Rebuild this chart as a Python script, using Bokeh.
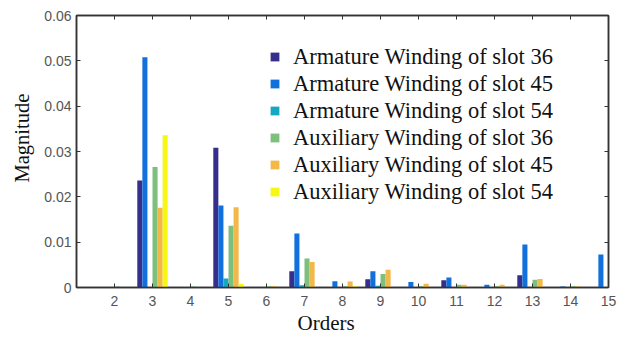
from bokeh.plotting import figure
from bokeh.models import Legend, LegendItem, LinearAxis, FixedTicker, Range1d, Title
from bokeh.embed import file_html
from bokeh.resources import INLINE

orders = [2, 3, 4, 5, 6, 7, 8, 9, 10, 11, 12, 13, 14, 15]
arm36 = [0.0, 0.0236, 0.0, 0.0308, 0.0, 0.0036, 0.0, 0.0018, 0.0, 0.0016, 0.0, 0.0027, 0.0, 0.0]
arm45 = [0.0, 0.0508, 0.0, 0.0181, 0.0, 0.0119, 0.0014, 0.0036, 0.0012, 0.0022, 0.0006, 0.0095, 0.0002, 0.0073]
arm54 = [0.0, 0.0, 0.0, 0.0020, 0.0, 0.0005, 0.0, 0.0004, 0.0, 0.0, 0.0, 0.0, 0.0, 0.0]
aux36 = [0.0002, 0.0266, 0.0002, 0.0136, 0.0003, 0.0064, 0.0003, 0.0030, 0.0003, 0.0006, 0.0003, 0.0017, 0.0003, 0.0]
aux45 = [0.0, 0.0176, 0.0, 0.0177, 0.0003, 0.0056, 0.0013, 0.0039, 0.0008, 0.0006, 0.0006, 0.0019, 0.0002, 0.0]
aux54 = [0.0, 0.0336, 0.0, 0.0008, 0.0, 0.0, 0.0003, 0.0, 0.0, 0.0, 0.0, 0.0, 0.0, 0.0]

labels = ["Armature Winding of slot 36", "Armature Winding of slot 45",
          "Armature Winding of slot 54", "Auxiliary Winding of slot 36",
          "Auxiliary Winding of slot 45", "Auxiliary Winding of slot 54"]
series = [arm36, arm45, arm54, aux36, aux45, aux54]
colors = ["#352e8c", "#1270dc", "#15a8c2", "#7dbf7d", "#f2b84a", "#f7f714"]

p = figure(width=618, height=337, output_backend="svg", toolbar_location=None,
           x_range=Range1d(1, 15), y_range=Range1d(0, 0.06),
           min_border_left=75, min_border_right=10, min_border_top=15, min_border_bottom=50)

p.background_fill_color = "white"
p.border_fill_color = "white"
p.grid.visible = False
p.outline_line_color = "#333333"
p.outline_line_width = 1.5

gw = 0.8
bw = gw / 6
items = []
for i, (vals, lab, col) in enumerate(zip(series, labels, colors)):
    off = (i - 2.5) * bw
    xs = [o + off for o in orders]
    r = p.vbar(x=xs, top=vals, width=bw, fill_color=col, line_color=None)
    items.append(LegendItem(label=lab, renderers=[r]))

for ax in [p.xaxis[0], p.yaxis[0]]:
    ax.axis_line_color = "#333333"
    ax.axis_line_width = 1.5
    ax.major_tick_in = 4
    ax.major_tick_out = 0
    ax.minor_tick_line_color = None
    ax.major_tick_line_color = "#333333"
    ax.major_label_text_font = "Liberation Sans"
    ax.major_label_text_font_size = "14px"
    ax.major_label_text_color = "#555555"

p.xaxis.ticker = FixedTicker(ticks=orders)
p.xaxis.major_label_standoff = 8
p.yaxis.ticker = FixedTicker(ticks=[0, 0.01, 0.02, 0.03, 0.04, 0.05, 0.06])
p.yaxis.major_label_overrides = {0: "0", 0.01: "0.01", 0.02: "0.02", 0.03: "0.03",
                                 0.04: "0.04", 0.05: "0.05", 0.06: "0.06"}
p.yaxis.major_label_standoff = 5

for side, tick in [("right", [0, 0.01, 0.02, 0.03, 0.04, 0.05, 0.06]), ("above", orders)]:
    ax = LinearAxis(ticker=FixedTicker(ticks=tick))
    ax.major_label_text_font_size = "0px"
    ax.major_label_text_color = None
    ax.axis_line_color = "#333333"
    ax.axis_line_width = 1.5
    ax.major_tick_in = 4
    ax.major_tick_out = 0
    ax.major_tick_line_color = "#333333"
    ax.minor_tick_line_color = None
    ax.major_label_standoff = 0
    p.add_layout(ax, side)

xt = Title(text="Orders", align="left", offset=221, standoff=0,
           text_font="Liberation Serif", text_font_size="21px",
           text_font_style="normal", text_color="#111111")
yt = Title(text="Magnitude", align="left", offset=105, standoff=17,
           text_font="Liberation Serif", text_font_size="20.5px",
           text_font_style="normal", text_color="#111111")
p.add_layout(xt, "below")
p.add_layout(yt, "left")

legend = Legend(items=items, location=(193, 82))
legend.border_line_color = None
legend.background_fill_alpha = 0
legend.label_text_font = "Liberation Serif"
legend.label_text_font_size = "22.5px"
legend.label_text_color = "#111111"
legend.glyph_width = 11
legend.glyph_height = 11
legend.label_height = 27
legend.label_standoff = 13
legend.spacing = 0
legend.padding = 0
legend.margin = 0
p.add_layout(legend)

open("out.html", "w").write(file_html(p, INLINE))
